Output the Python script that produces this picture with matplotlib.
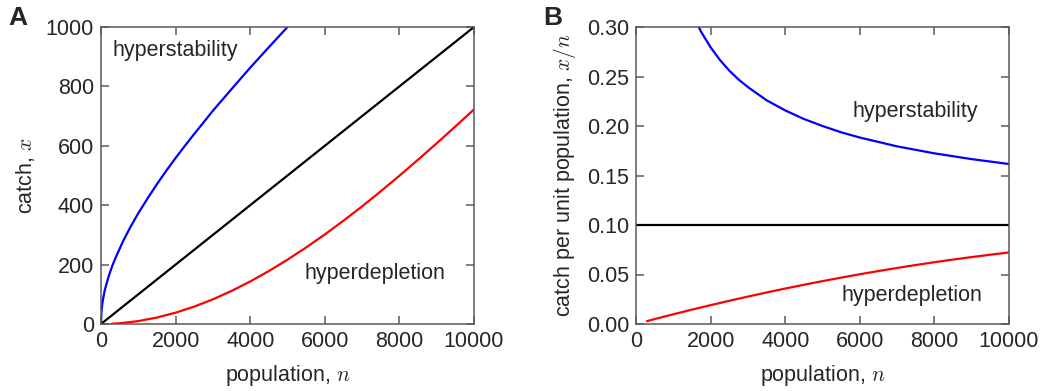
import numpy as np
import matplotlib
matplotlib.use("Agg")
import matplotlib.pyplot as plt
from matplotlib.ticker import FormatStrFormatter

plt.rcParams['font.family'] = ['Liberation Sans', 'DejaVu Sans']
plt.rcParams['mathtext.fontset'] = 'cm'
plt.rcParams['font.size'] = 15.5

# ---- data (catch x against population n) ----
n_black = [0, 10000]
catch_black = [0, 1000]

n_blue = [0, 10, 25, 50, 100, 200, 300, 400, 600, 800, 1000, 1250, 1500, 1750,
          2000, 2250, 2500, 2750, 3000, 3500, 4000, 4500, 5000, 5500, 6000,
          7000, 8000, 9000, 10000]
catch_blue = [0, 38, 58, 81, 113, 159, 195, 226, 281, 329, 373, 423, 471, 516,
              559, 600, 640, 679, 718, 791, 863, 932, 1000, 1065, 1130,
              1256, 1379, 1499, 1616]

n_red = [303, 500, 1000, 1500, 2000, 2500, 3000, 3500, 4000, 4500, 5000, 5500,
         6000, 6500, 7000, 7500, 8000, 8500, 9000, 9500, 10000]
catch_red = [0.9, 2.5, 9.8, 21.8, 38.1, 58.6, 83.1, 111.4, 143.2, 178.3, 216.6,
             257.7, 301.5, 347.8, 396.2, 446.8, 499.2, 553.2, 608.4, 665.0, 722.5]

x_ticks = [0, 2000, 4000, 6000, 8000, 10000]
yA_ticks = [0, 200, 400, 600, 800, 1000]
yB_ticks = [0.00, 0.05, 0.10, 0.15, 0.20, 0.25, 0.30]

TEXT = '#262626'
SPINE = '#5a5a5a'
FS = 15.5

fig = plt.figure(figsize=(10.43, 3.91), dpi=100)
axA = fig.add_axes([101 / 1043, 1 - 324 / 391, 373 / 1043, 297 / 391])
axB = fig.add_axes([636 / 1043, 1 - 324 / 391, 373 / 1043, 297 / 391])


def style(ax):
    for s in ax.spines.values():
        s.set_color(SPINE)
        s.set_linewidth(1.1)
    ax.tick_params(direction='in', length=5.5, width=1.1, color=SPINE,
                   top=True, right=True, labelcolor=TEXT, labelsize=FS, pad=5)


lw = 1.6
# Panel A
axA.plot(n_black, catch_black, color='black', lw=lw)
axA.plot(n_blue, catch_blue, color='#0000ff', lw=lw)
axA.plot(n_red, catch_red, color='#ff0000', lw=lw)
axA.set_xlim(0, 10000)
axA.set_ylim(0, 1000)
axA.set_xticks(x_ticks)
axA.set_yticks(yA_ticks)
style(axA)
axA.set_xlabel('population, $n$', color=TEXT, fontsize=FS, labelpad=8)
axA.set_ylabel('catch, $x$', color=TEXT, fontsize=FS, labelpad=6)
axA.text(300, 920, 'hyperstability', color=TEXT, fontsize=FS, va='center', ha='left')
axA.text(5450, 170, 'hyperdepletion', color=TEXT, fontsize=FS, va='center', ha='left')

# Panel B: catch per unit population
nb = np.asarray(n_black[1:], float)
cb = np.asarray(catch_black[1:], float) / nb
axB.plot([0, 10000], [cb[0], cb[0]], color='black', lw=lw)
nbl = np.asarray(n_blue[1:], float)
axB.plot(nbl, np.asarray(catch_blue[1:], float) / nbl, color='#0000ff', lw=lw)
nr = np.asarray(n_red, float)
axB.plot(nr, np.asarray(catch_red, float) / nr, color='#ff0000', lw=lw)
axB.set_xlim(0, 10000)
axB.set_ylim(0, 0.30)
axB.set_xticks(x_ticks)
axB.set_yticks(yB_ticks)
axB.yaxis.set_major_formatter(FormatStrFormatter('%.2f'))
style(axB)
axB.set_xlabel('population, $n$', color=TEXT, fontsize=FS, labelpad=8)
axB.set_ylabel('catch per unit population, $x/n$', color=TEXT, fontsize=FS, labelpad=6)
axB.text(5800, 0.215, 'hyperstability', color=TEXT, fontsize=FS, va='center', ha='left')
axB.text(5500, 0.029, 'hyperdepletion', color=TEXT, fontsize=FS, va='center', ha='left')

fig.text(8 / 1043, 1 - 18 / 391, 'A', fontsize=19, fontweight='bold', color=TEXT,
         va='center', ha='left')
fig.text(543 / 1043, 1 - 18 / 391, 'B', fontsize=19, fontweight='bold', color=TEXT,
         va='center', ha='left')

fig.savefig('out.png', dpi=100)
